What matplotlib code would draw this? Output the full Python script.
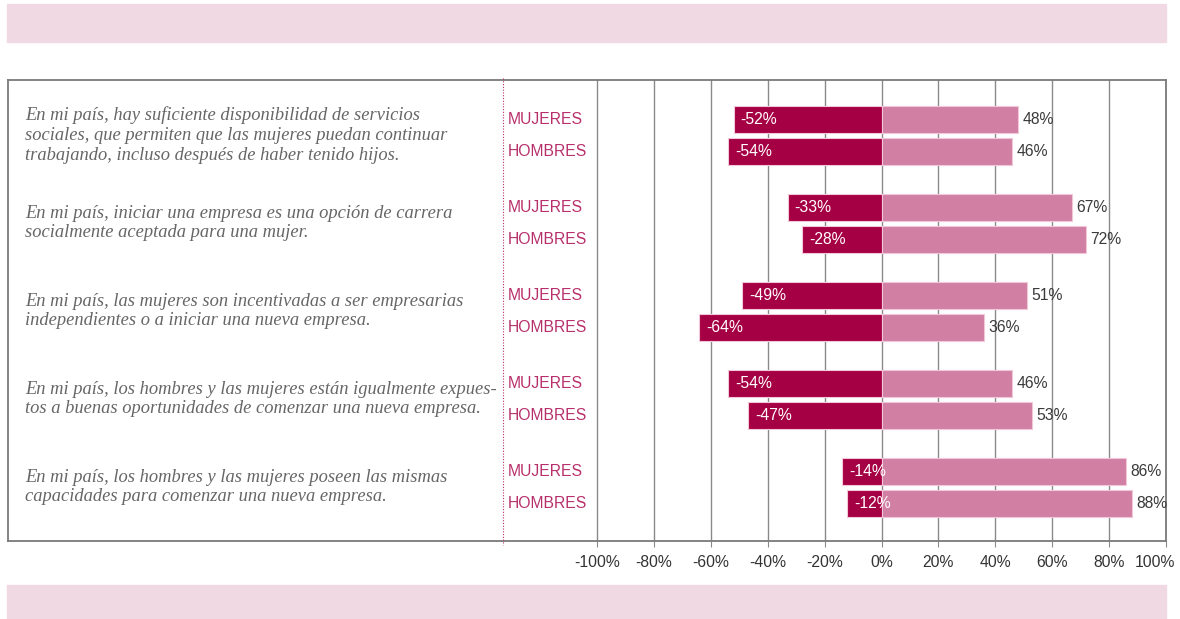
import matplotlib.pyplot as plt
from matplotlib.patches import Rectangle
from matplotlib.transforms import ScaledTranslation

questions = [
    "En mi país, hay suficiente disponibilidad de servicios\nsociales, que permiten que las mujeres puedan continuar\ntrabajando, incluso después de haber tenido hijos.",
    "En mi país, iniciar una empresa es una opción de carrera\nsocialmente aceptada para una mujer.",
    "En mi país, las mujeres son incentivadas a ser empresarias\nindependientes o a iniciar una nueva empresa.",
    "En mi país, los hombres y las mujeres están igualmente expues-\ntos a buenas oportunidades de comenzar una nueva empresa.",
    "En mi país, los hombres y las mujeres poseen las mismas\ncapacidades para comenzar una nueva empresa.",
]
groups = ["MUJERES", "HOMBRES"]
# (mujeres, hombres) per question
negative = [(-52, -54), (-33, -28), (-49, -64), (-54, -47), (-14, -12)]
positive = [(48, 46), (67, 72), (51, 36), (46, 53), (86, 88)]
ticks = [-100, -80, -60, -40, -20, 0, 20, 40, 60, 80, 100]

NEG_COLOR = '#a60044'
POS_COLOR = '#d17fa3'
LABEL_COLOR = '#b8306b'
BAND_COLOR = '#f0d9e2'

W, H = 1180, 619
fig = plt.figure(figsize=(W / 100, H / 100), dpi=100)

# pink bands at top and bottom
fig.patches.append(Rectangle((7 / W, 1 - 42 / H), 1159 / W, 38 / H,
                             transform=fig.transFigure, color=BAND_COLOR, zorder=0))
fig.patches.append(Rectangle((7 / W, 0), 1159 / W, 34 / H,
                             transform=fig.transFigure, color=BAND_COLOR, zorder=0))

# axes spans the whole box, scale -100..100 sits on the right part
left_px, right_px, top_px, bot_px = 8, 1166, 80, 541
zero100_px = 597
ax = fig.add_axes([left_px / W, 1 - bot_px / H, (right_px - left_px) / W, (bot_px - top_px) / H])
scale = 200 / (right_px - zero100_px)
xmin = -100 - (zero100_px - left_px) * scale
ax.set_xlim(xmin, 100)
ax.set_ylim(bot_px, top_px)

for s in ax.spines.values():
    s.set_color('#7a7a7a')
    s.set_linewidth(1.3)

for t in ticks:
    ax.axvline(t, color='#8a8a8a', lw=1.0, zorder=1)

ax.set_xticks(ticks)
ax.set_xticklabels([f"{t}%" for t in ticks], fontsize=11.3, color='#333333',
                   family='Liberation Sans')
ax.tick_params(axis='x', length=4, color='#8a8a8a', pad=6)
ax.set_yticks([])
last = ax.get_xticklabels()[-1]
last.set_horizontalalignment('right')
last.set_transform(last.get_transform() + ScaledTranslation(9 / 100, 0, fig.dpi_scale_trans))

bar_h = 27
for g, q in enumerate(questions):
    center = 135 + 88 * g
    ax.text(xmin + 17 * scale, center, q, ha='left', va='center', fontsize=13.3,
            style='italic', family='Liberation Serif', color='#666666',
            linespacing=1.22)
    for k in range(2):
        y = center - 16 + 32 * k
        n = negative[g][k]
        p = positive[g][k]
        ax.barh(y, n, height=bar_h, color=NEG_COLOR, edgecolor='#f2c8d8',
                linewidth=0.8, zorder=2)
        ax.barh(y, p, height=bar_h, color=POS_COLOR, edgecolor='#f2c8d8',
                linewidth=0.8, zorder=2)
        ax.text(n + 2.5, y, f"{n}%", ha='left', va='center', fontsize=11.3,
                color='white', family='Liberation Sans', zorder=3)
        ax.text(p + 1.5, y, f"{p}%", ha='left', va='center', fontsize=11.3,
                color='#3a3a3a', family='Liberation Sans', zorder=3)
        ax.text(xmin + 500 * scale, y, groups[k], ha='left', va='center',
                fontsize=11.3, color=LABEL_COLOR, family='Liberation Sans')

# dotted separator between questions and labels
ax.plot([xmin + 495 * scale] * 2, [top_px - 2, bot_px + 4], color=LABEL_COLOR,
        lw=0.8, ls=(0, (1, 1.5)), clip_on=False, zorder=3)

fig.savefig('out.png', dpi=100)
